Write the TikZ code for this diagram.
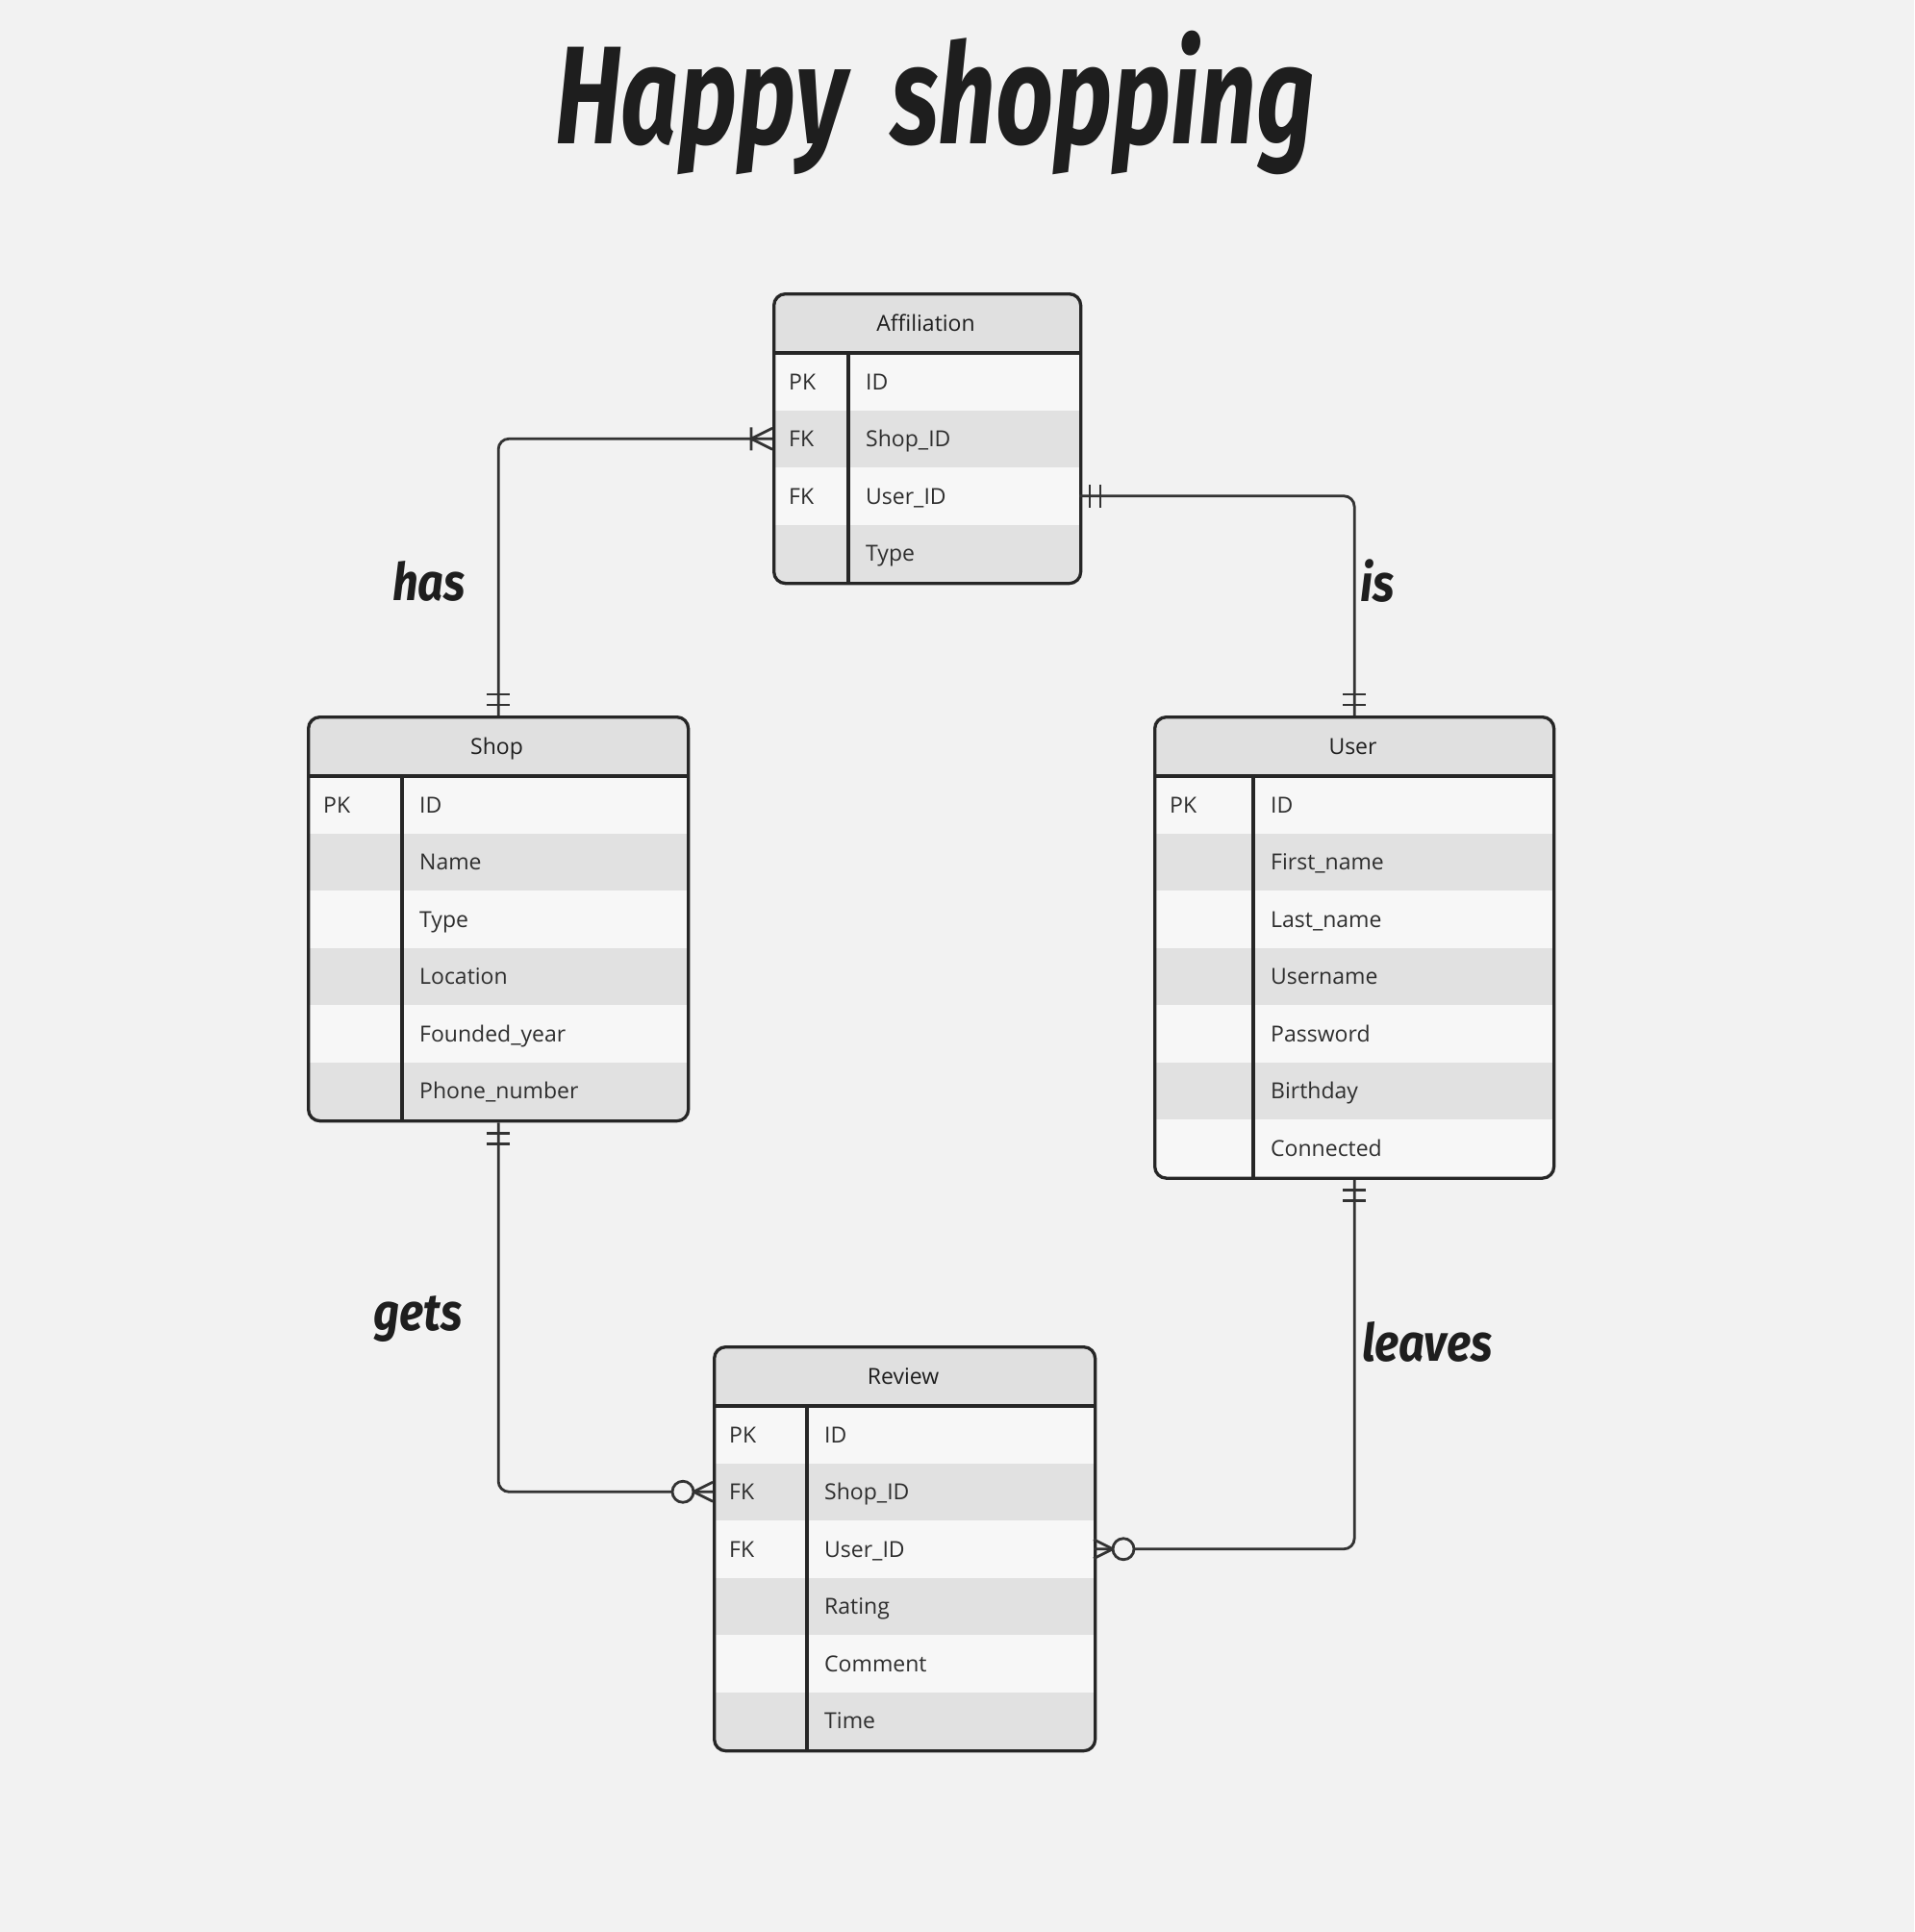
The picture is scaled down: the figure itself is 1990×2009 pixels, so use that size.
\documentclass[tikz,border=0pt]{standalone}
\usepackage{fontspec}
\usepackage{graphicx}
\setmainfont{Open Sans}
\newfontfamily\hand{Fira Sans}
\definecolor{bg}{HTML}{F2F2F2}
\definecolor{hdrfill}{HTML}{E0E0E0}
\definecolor{rowlight}{HTML}{F7F7F7}
\definecolor{rowdark}{HTML}{E1E1E1}
\definecolor{bordercol}{HTML}{262626}
\definecolor{linecol}{HTML}{333333}
\definecolor{txtcol}{HTML}{2E2E2E}
\definecolor{inkcol}{HTML}{1E1E1E}
\tikzset{
  tablebox/.style={draw=bordercol, line width=3.3pt, rounded corners=12pt, inner sep=0pt, fill=none},
  rowcell/.style={inner sep=0pt, outer sep=0pt, anchor=north west, minimum height=59.5pt},
  keytext/.style={anchor=base west, inner sep=0pt, text=txtcol, font=\fontsize{23}{28}\selectfont},
  headtext/.style={anchor=base, inner sep=0pt, text=inkcol, font=\fontsize{23}{28}\selectfont},
  sepline/.style={draw=bordercol, line width=3.3pt},
  conn/.style={draw=linecol, line width=2.8pt},
  handlabel/.style={anchor=base west, inner sep=0pt, text=inkcol, font=\hand\bfseries\itshape\fontsize{47}{56}\selectfont},
  mandone/.pic={\draw[conn] (11,-12) -- (11,12) (22,-12) -- (22,12);},
  onemany/.pic={\draw[conn] (0,-11) -- (22,0) -- (0,11) (22,-12) -- (22,12);},
  zeromany/.pic={\draw[conn] (0,-10) -- (20,0) -- (0,10); \draw[conn, fill=bg] (31,0) circle[radius=11pt];}
}
\newcommand\ertable[8]{%
  \pgfmathsetmacro\tbH{63+#6*59.5}%
  \begin{scope}
    \clip[rounded corners=12pt] (#2,#3) rectangle ++(#4,\tbH);
    \fill[hdrfill] (#2,#3) rectangle ++(#4,63);
    \foreach \k/\f [count=\i] in {#8} {%
      \pgfmathsetmacro\ry{#3+63+(\i-1)*59.5}%
      \pgfmathtruncatemacro\odd{mod(\i,2)}%
      \ifnum\odd=1 \def\rc{rowlight}\else\def\rc{rowdark}\fi
      \node[rowcell, fill=\rc, minimum width=#4pt] (#1-\i) at (#2,\ry) {};
      \node[keytext] (#1-\i-k) at (#2+17,\ry+38) {\k};
      \node[keytext] (#1-\i-f) at (#2+#5+18,\ry+38) {\f};
    }
  \end{scope}
  \draw[sepline] (#2,#3+63) -- ++(#4,0);
  \draw[sepline] (#2+#5,#3+63) -- (#2+#5,#3+\tbH);
  \node[tablebox, minimum width=#4pt, minimum height=\tbH pt, anchor=north west] (#1) at (#2,#3) {};
  \node[headtext] (#1-title) at (#2+#4/2,#3+40) {#7};
}
\begin{document}
\begin{tikzpicture}[x=1pt,y=-1pt]
\fill[bg] (0,0) rectangle (1990,2009);
\useasboundingbox (0,0) rectangle (1990,2009);

\node[anchor=base, inner sep=0pt, text=inkcol, font=\hand\bfseries\itshape\fontsize{105}{130}\selectfont] (title) at (972,150) {\scalebox{1}[1.38]{Happy\hspace{22pt} shopping}};

\ertable{aff}{803}{304}{319}{79}{4}{Affiliation}{PK/ID, FK/Shop\_ID, FK/User\_ID, {}/Type}
\ertable{shop}{319}{744}{395}{99}{6}{Shop}{PK/ID, {}/Name, {}/Type, {}/Location, {}/Founded\_year, {}/Phone\_number}
\ertable{user}{1199}{744}{415}{104}{7}{User}{PK/ID, {}/First\_name, {}/Last\_name, {}/Username, {}/Password, {}/Birthday, {}/Connected}
\ertable{rev}{741}{1399}{396}{98}{6}{Review}{PK/ID, FK/Shop\_ID, FK/User\_ID, {}/Rating, {}/Comment, {}/Time}

\draw[conn, rounded corners=11pt] (shop.north) |- (aff-2.west);
\draw[conn, rounded corners=11pt] (aff-3.east) -| (user.north);
\draw[conn, rounded corners=11pt] (shop.south) |- (rev-2.west);
\draw[conn, rounded corners=11pt] (user.south) |- (rev-3.east);

\pic[rotate=90] at (shop.north) {mandone};
\pic[rotate=180] at (aff-2.west) {onemany};
\pic at (aff-3.east) {mandone};
\pic[rotate=90] at (user.north) {mandone};
\pic[rotate=-90] at (shop.south) {mandone};
\pic[rotate=180] at (rev-2.west) {zeromany};
\pic[rotate=-90] at (user.south) {mandone};
\pic at (rev-3.east) {zeromany};

\node[handlabel] (lhas) at (408,624) {\scalebox{1}[1.15]{has}};
\node[handlabel] (lis) at (1414,625) {\scalebox{1}[1.15]{is}};
\node[handlabel] (lgets) at (388,1383) {\scalebox{1}[1.15]{gets}};
\node[handlabel] (lleaves) at (1416,1415) {\scalebox{1}[1.15]{leaves}};
\end{tikzpicture}
\end{document}
